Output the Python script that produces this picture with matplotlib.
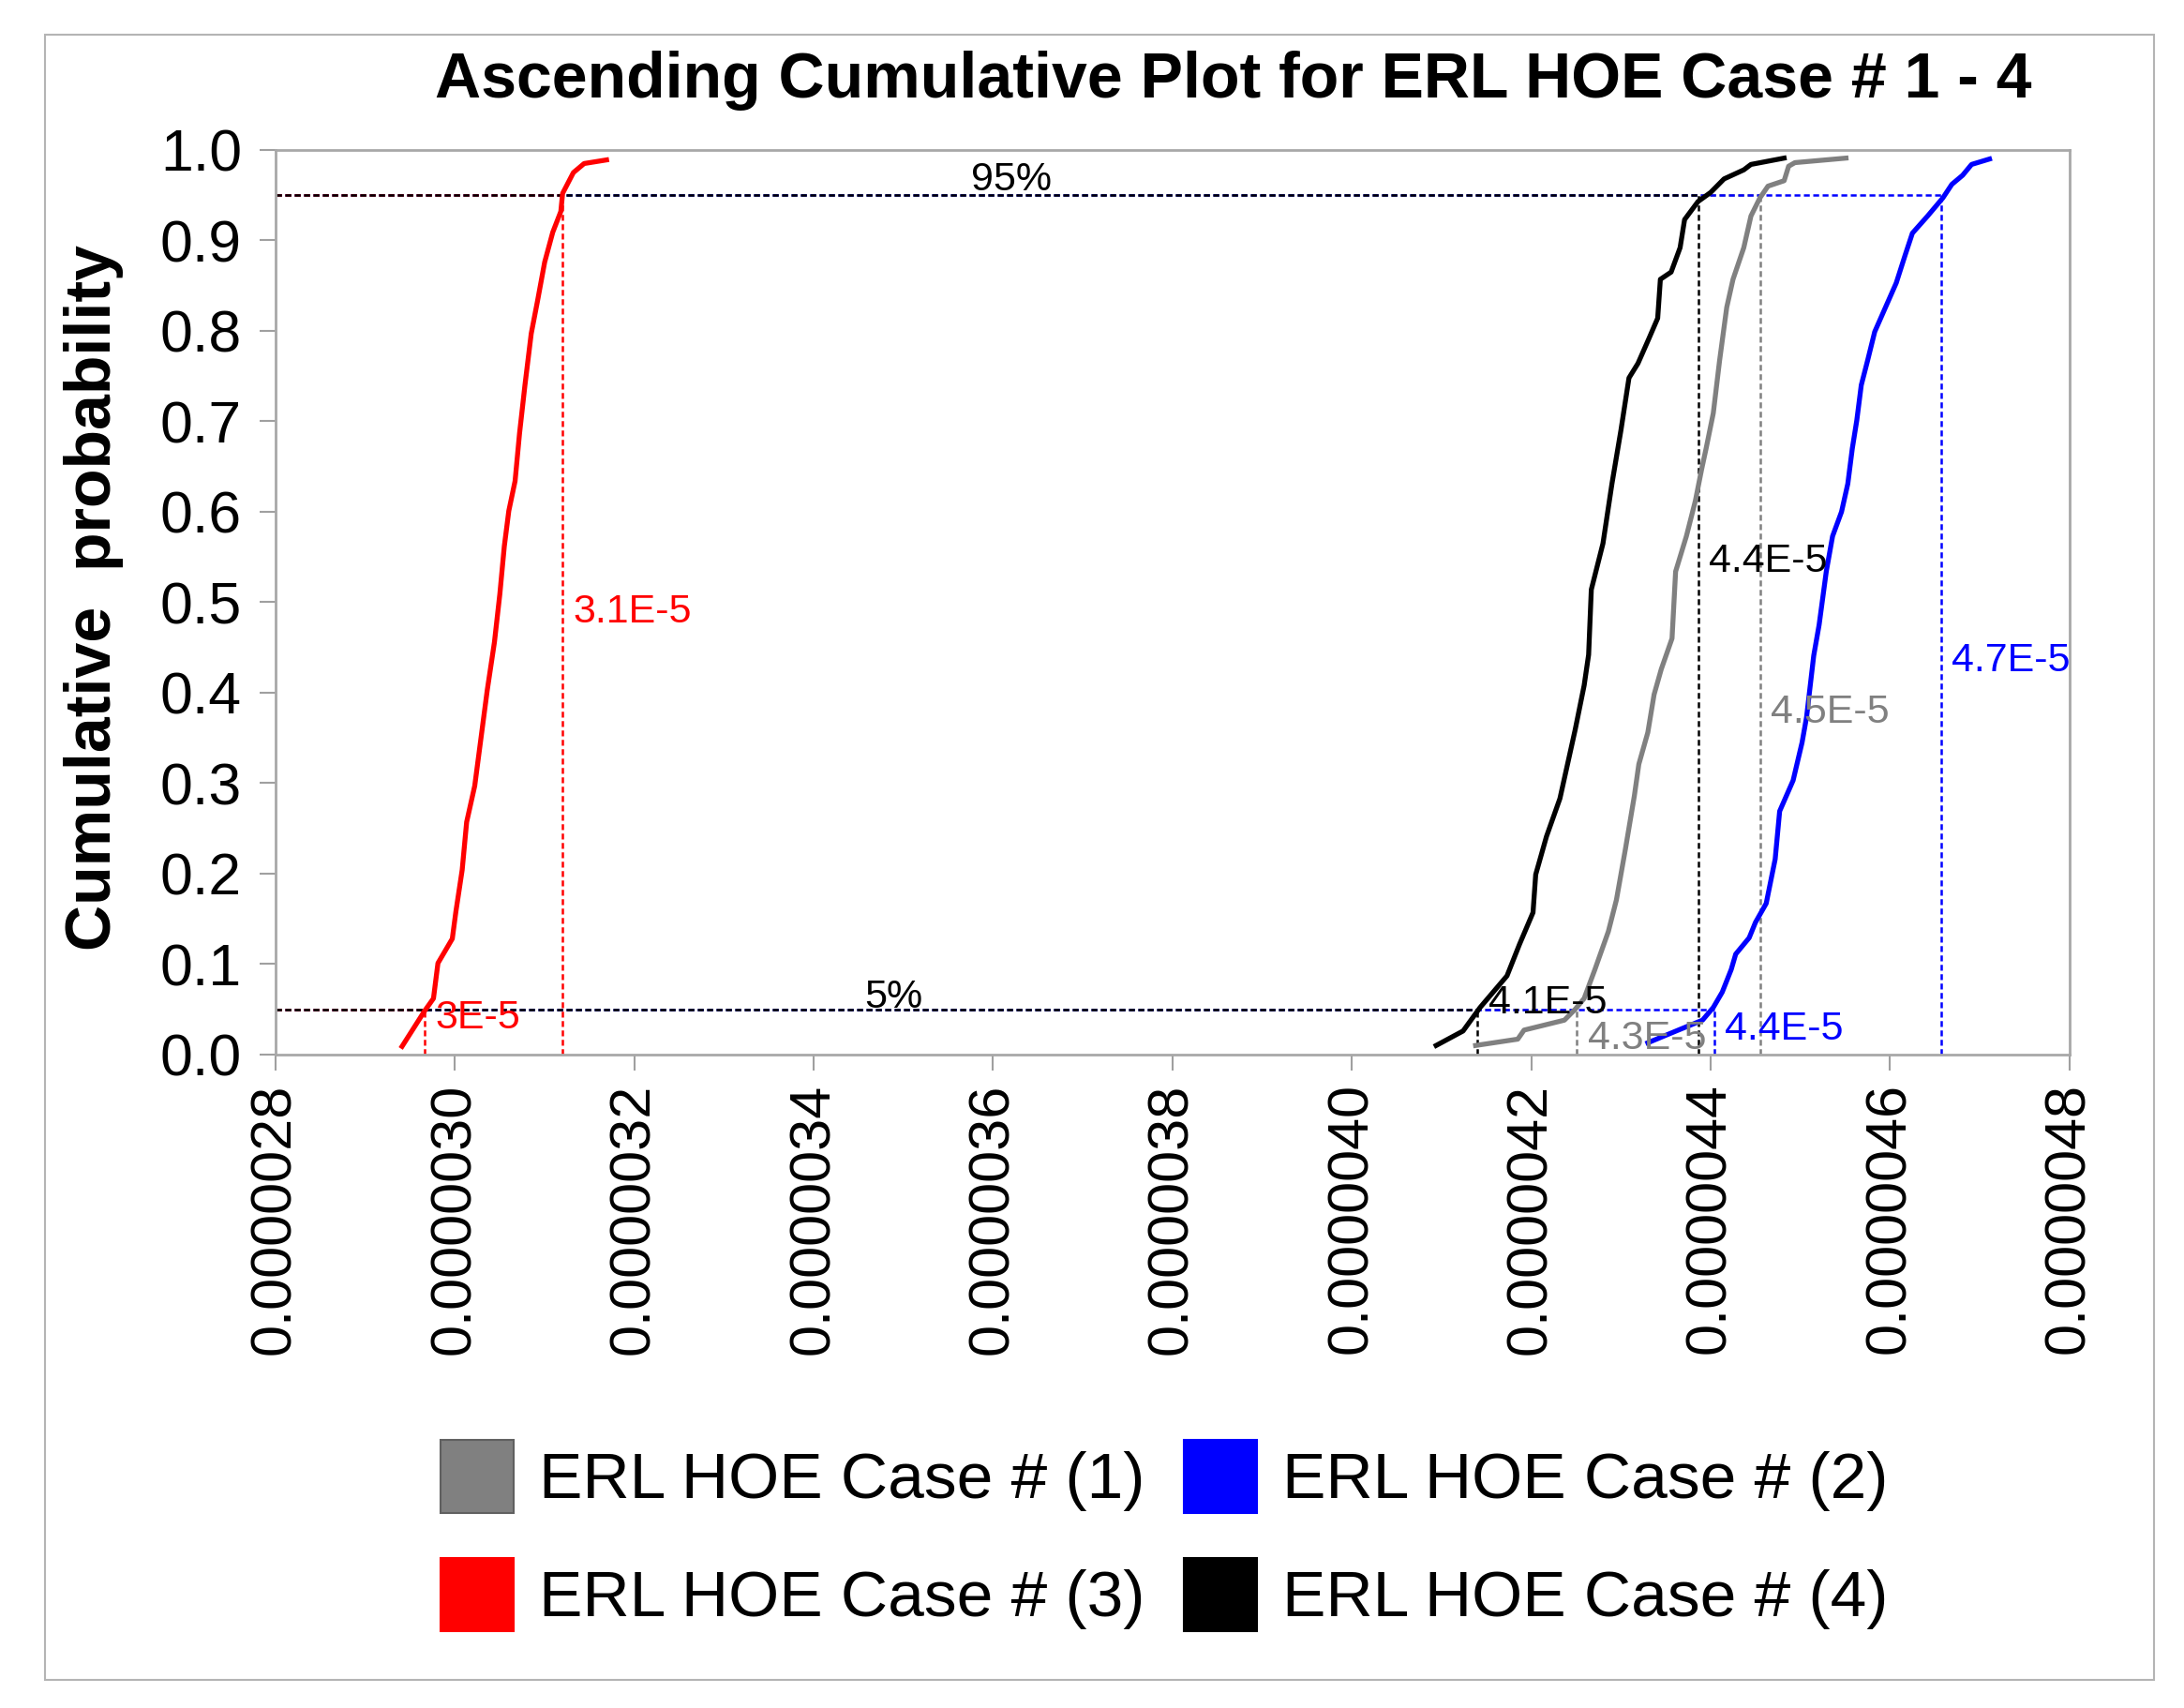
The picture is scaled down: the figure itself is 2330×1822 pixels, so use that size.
import matplotlib
matplotlib.use('Agg')
import matplotlib.pyplot as plt
from matplotlib.patches import Patch, Rectangle

plt.rcParams['font.family'] = ['Liberation Sans', 'DejaVu Sans']

# values, x in units of 1e-5
case1_x = [4.138, 4.185, 4.192, 4.237, 4.249, 4.259, 4.271, 4.286, 4.295, 4.305, 4.315,
           4.320, 4.330, 4.337, 4.345, 4.357, 4.361, 4.373, 4.383, 4.390, 4.395, 4.403,
           4.410, 4.418, 4.425, 4.437, 4.445, 4.455, 4.464, 4.482, 4.487, 4.494, 4.551]
case1_p = [0.010, 0.017, 0.027, 0.038, 0.050, 0.062, 0.094, 0.136, 0.171, 0.227, 0.286,
           0.321, 0.356, 0.398, 0.426, 0.460, 0.534, 0.573, 0.612, 0.647, 0.670, 0.709,
           0.767, 0.826, 0.857, 0.892, 0.927, 0.947, 0.960, 0.966, 0.982, 0.986, 0.991]

case2_x = [4.330, 4.364, 4.391, 4.403, 4.413, 4.423, 4.428, 4.443, 4.450, 4.462, 4.472,
           4.477, 4.492, 4.502, 4.507, 4.515, 4.521, 4.529, 4.536, 4.546, 4.553, 4.558,
           4.563, 4.568, 4.575, 4.583, 4.595, 4.607, 4.617, 4.625, 4.642, 4.659, 4.669,
           4.681, 4.691, 4.711]
case2_p = [0.013, 0.027, 0.038, 0.052, 0.069, 0.094, 0.111, 0.129, 0.146, 0.167, 0.216,
           0.269, 0.303, 0.345, 0.373, 0.441, 0.475, 0.534, 0.573, 0.600, 0.631, 0.670,
           0.701, 0.740, 0.767, 0.799, 0.826, 0.853, 0.884, 0.908, 0.927, 0.947, 0.962,
           0.972, 0.984, 0.990]

case3_x = [2.941, 2.966, 2.976, 2.981, 2.997, 3.001, 3.008, 3.013, 3.022, 3.029, 3.036,
           3.044, 3.050, 3.055, 3.060, 3.067, 3.072, 3.078, 3.085, 3.092, 3.100, 3.109,
           3.118, 3.120, 3.132, 3.144, 3.169]
case3_p = [0.009, 0.048, 0.062, 0.101, 0.128, 0.158, 0.204, 0.257, 0.297, 0.350, 0.403,
           0.456, 0.509, 0.562, 0.601, 0.634, 0.687, 0.740, 0.797, 0.833, 0.876, 0.909,
           0.932, 0.952, 0.975, 0.985, 0.989]

case4_x = [4.094, 4.124, 4.143, 4.173, 4.187, 4.202, 4.205, 4.217, 4.232, 4.249, 4.259,
           4.264, 4.267, 4.280, 4.290, 4.300, 4.309, 4.319, 4.331, 4.341, 4.344, 4.356,
           4.366, 4.371, 4.386, 4.400, 4.415, 4.437, 4.445, 4.482]
case4_p = [0.010, 0.026, 0.052, 0.087, 0.122, 0.157, 0.199, 0.241, 0.283, 0.359, 0.408,
           0.442, 0.514, 0.565, 0.631, 0.690, 0.748, 0.764, 0.791, 0.814, 0.857, 0.865,
           0.892, 0.923, 0.943, 0.953, 0.968, 0.978, 0.984, 0.991]

case_names = ['ERL HOE Case # (1)', 'ERL HOE Case # (2)', 'ERL HOE Case # (3)', 'ERL HOE Case # (4)']
q05 = [4.251, 4.404, 2.966, 4.140]
q95 = [4.455, 4.657, 3.120, 4.386]
q05_text = ['4.3E-5', '4.4E-5', '3E-5', '4.1E-5']
q95_text = ['4.5E-5', '4.7E-5', '3.1E-5', '4.4E-5']

xticks = [2.8, 3.0, 3.2, 3.4, 3.6, 3.8, 4.0, 4.2, 4.4, 4.6, 4.8]
xtick_labels = ['0.0000028', '0.0000030', '0.0000032', '0.0000034', '0.0000036', '0.0000038',
                '0.0000040', '0.0000042', '0.0000044', '0.0000046', '0.0000048']
yticks = [0.0, 0.1, 0.2, 0.3, 0.4, 0.5, 0.6, 0.7, 0.8, 0.9, 1.0]

colors = ['#808080', '#0000ff', '#ff0000', '#000000']
xs = [case1_x, case2_x, case3_x, case4_x]
ps = [case1_p, case2_p, case3_p, case4_p]

# where the quantile labels sit (height in probability)
y95_pos = [0.378, 0.435, 0.489, 0.545]
y05_pos = [0.017, 0.028, 0.040, 0.057]

fig = plt.figure(figsize=(23.3, 18.22), dpi=100)
ax = fig.add_axes([0.1262, 0.3826, 0.8213, 0.5296])

dash = (0, (2.5, 1.5))
for i in range(4):
    c = colors[i]
    ax.plot([2.8, q95[i]], [0.95, 0.95], color=c, ls=dash, lw=1.8)
    ax.plot([2.8, q05[i]], [0.05, 0.05], color=c, ls=dash, lw=1.8)
    ax.plot([q95[i], q95[i]], [0, 0.95], color=c, ls=dash, lw=1.8)
    ax.plot([q05[i], q05[i]], [0, 0.05], color=c, ls=dash, lw=1.8)

for i in range(4):
    ax.plot(xs[i], ps[i], color=colors[i], lw=3.8, solid_joinstyle='round')

for i in range(4):
    ax.text(q95[i] + 0.012, y95_pos[i], q95_text[i], color=colors[i], fontsize=31,
            ha='left', va='center')
    ax.text(q05[i] + 0.012, y05_pos[i], q05_text[i], color=colors[i], fontsize=31,
            ha='left', va='center')

ax.text(3.62, 0.967, '95%', fontsize=31, ha='center', va='center')
ax.text(3.489, 0.063, '5%', fontsize=31, ha='center', va='center')

ax.set_xlim(2.8, 4.8)
ax.set_ylim(0, 1)
ax.set_xticks(xticks)
ax.set_xticklabels(xtick_labels, rotation=90)
ax.set_yticks(yticks)
ax.set_yticklabels(['%.1f' % v for v in yticks])
ax.tick_params(color='#a0a0a0', length=12, width=1.5, labelsize=45)
ax.tick_params(axis='x', pad=10, labelsize=44)
ax.tick_params(axis='y', pad=14)
for s in ax.spines.values():
    s.set_color('#a8a8a8')
    s.set_linewidth(2)

fig.text(0.5645, 0.953, 'Ascending Cumulative Plot for ERL HOE Case # 1 - 4',
         ha='center', va='center', fontsize=49, fontweight='bold')
fig.text(0.043, 0.65, 'Cumulative  probability', rotation=90,
         ha='center', va='center', fontsize=49, fontweight='bold')

# legend goes column by column, so order the handles to get 1 2 / 3 4
order = [0, 2, 1, 3]
handles = [Patch(facecolor=colors[i], edgecolor='#606060' if i == 0 else colors[i], lw=1.5)
           for i in order]
labels = [case_names[i] for i in order]
fig.legend(handles, labels, ncol=2, loc='center', bbox_to_anchor=(0.533, 0.101),
           frameon=False, fontsize=50, handlelength=1.13, handleheight=1.37,
           handletextpad=0.38, columnspacing=0.6, labelspacing=0.68)

fig.patches.append(Rectangle((0.0206, 0.0165), 0.9655, 0.9632, transform=fig.transFigure,
                             fill=False, edgecolor='#b4b4b4', lw=1.5))

fig.savefig('out.png', dpi=100)
